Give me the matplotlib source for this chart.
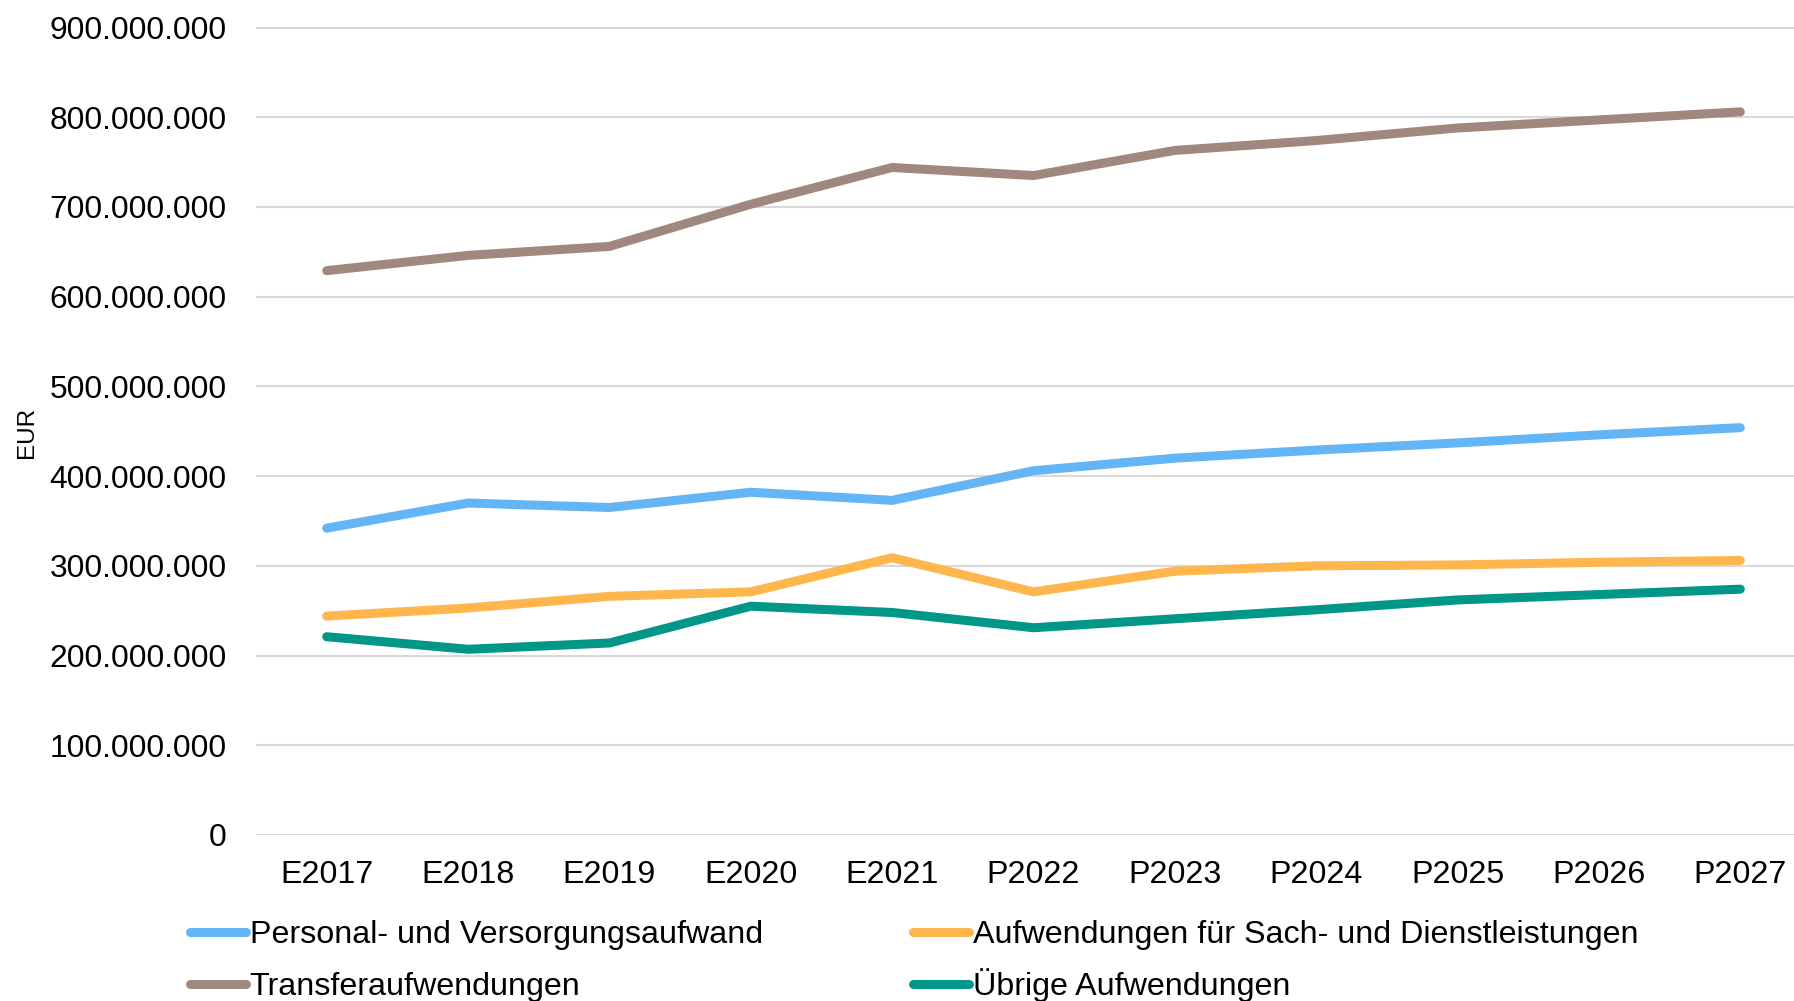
import numpy as np
import matplotlib
matplotlib.use("Agg")
import matplotlib.pyplot as plt
from matplotlib.ticker import FuncFormatter

plt.rcParams['font.family'] = ['Liberation Sans', 'DejaVu Sans']

# Data (EUR)
years = ['E2017', 'E2018', 'E2019', 'E2020', 'E2021',
         'P2022', 'P2023', 'P2024', 'P2025', 'P2026', 'P2027']
personal = [342e6, 370e6, 365e6, 382e6, 373e6, 406e6, 420e6, 429e6, 437e6, 446e6, 454e6]
sach = [244e6, 253e6, 266e6, 271e6, 309e6, 271e6, 294e6, 300e6, 301e6, 304e6, 306e6]
transfer = [629e6, 646e6, 656e6, 703e6, 744e6, 735e6, 763e6, 774e6, 788e6, 797e6, 806e6]
uebrige = [221e6, 207e6, 214e6, 255e6, 248e6, 231e6, 241e6, 251e6, 262e6, 268e6, 274e6]

W, H = 1794, 1001
fig = plt.figure(figsize=(W / 100, H / 100), dpi=100)
ax = fig.add_axes([256 / W, 166 / H, 1555 / W, 807.5 / H])

x = np.arange(len(years))
lw = 6.5
l1, = ax.plot(x, personal, color='#64B5F6', lw=lw, solid_capstyle='round',
              label='Personal- und Versorgungsaufwand', clip_on=False)
l2, = ax.plot(x, sach, color='#FFB74D', lw=lw, solid_capstyle='round',
              label='Aufwendungen für Sach- und Dienstleistungen', clip_on=False)
l3, = ax.plot(x, transfer, color='#A1887F', lw=lw, solid_capstyle='round',
              label='Transferaufwendungen', clip_on=False)
l4, = ax.plot(x, uebrige, color='#009688', lw=lw, solid_capstyle='round',
              label='Übrige Aufwendungen', clip_on=False)

ax.set_xlim(-0.5, len(years) - 0.5)
ax.set_ylim(0, 900e6)
ax.set_yticks(np.arange(0, 900e6 + 1, 100e6))
ax.yaxis.set_major_formatter(FuncFormatter(lambda v, p: f'{int(v):,}'.replace(',', '.')))
ax.set_xticks(x)
ax.set_xticklabels(years)

ax.grid(axis='y', color='#D9D9D9', lw=1.5)
ax.set_axisbelow(True)
for s in ax.spines.values():
    s.set_visible(False)
ax.tick_params(axis='y', length=0, pad=21, labelsize=22.9)
ax.tick_params(axis='x', length=0, pad=18, labelsize=23.2)

fig.text(27 / W, 1 - 432 / H, 'EUR', rotation=90, fontsize=17.5,
         ha='center', va='center')

# legend entries placed one by one (2 x 2 grid)
spots = [(l1, 190, 935.5), (l2, 913, 935.5), (l3, 190, 987.5), (l4, 913, 985)]
for line, lx, ly in spots:
    fig.legend(handles=[line], loc='center left',
               bbox_to_anchor=(lx / W, 1 - ly / H), frameon=False,
               fontsize=23.2, handlelength=1.75, handletextpad=0.1,
               borderpad=0, borderaxespad=0)

fig.savefig('out.png', dpi=100)
